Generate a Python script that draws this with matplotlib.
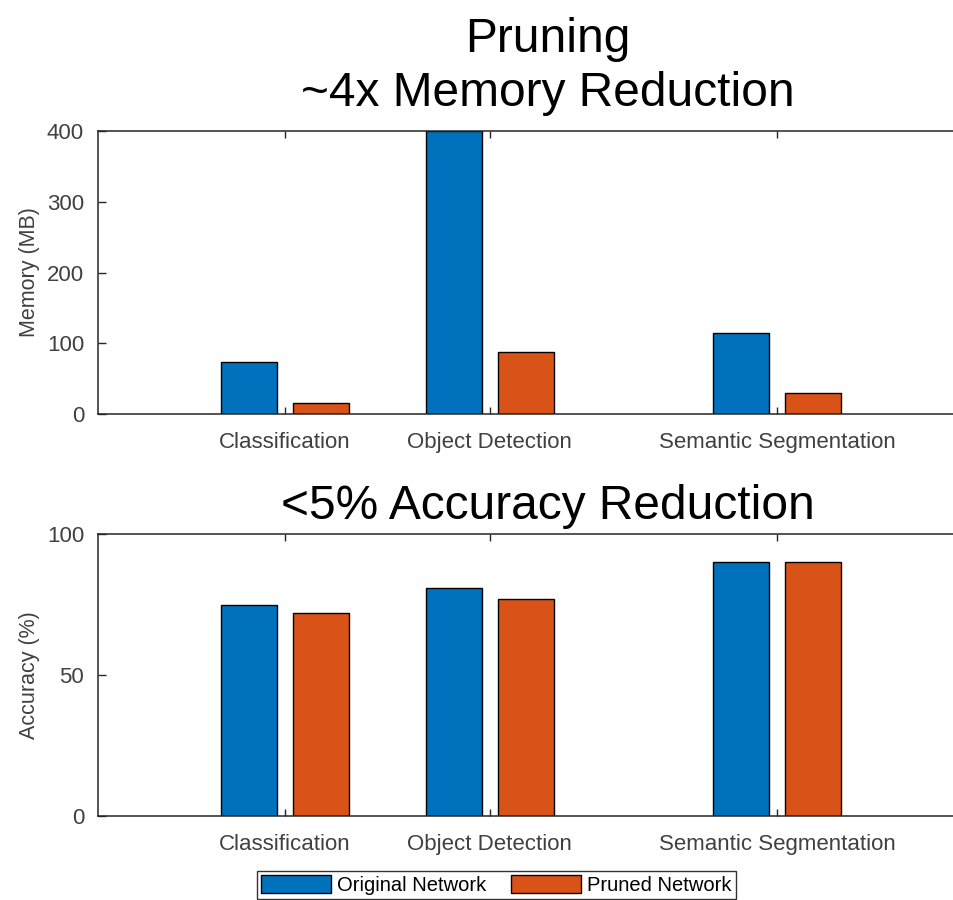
import numpy as np
import matplotlib
matplotlib.use("Agg")
import matplotlib.pyplot as plt

plt.rcParams["font.family"] = ["Liberation Sans", "DejaVu Sans"]

categories = ["Classification", "Object Detection", "Semantic Segmentation"]
series_names = ["Original Network", "Pruned Network"]
memory_original = [74, 400, 114]
memory_pruned = [15, 88, 29]
accuracy_original = [75, 81, 90]
accuracy_pruned = [72, 77, 90]

# matlab default colours
blue = "#0072BD"
orange = "#D95319"
grey = "0.25"

x = np.array([1.0, 2.0, 3.4])
width = 0.273
offset = 0.175

fig = plt.figure(figsize=(9.54, 9.0), dpi=100)
ax1 = fig.add_axes([0.1027, 0.540, 0.944, 0.3144])
ax2 = fig.add_axes([0.1027, 0.0933, 0.944, 0.3133])


def style_axes(ax, ymax, yticks, ylabel):
    ax.set_xlim(0.09, 4.48)
    ax.set_ylim(0, ymax)
    ax.set_yticks(yticks)
    ax.set_xticks(x)
    ax.set_xticklabels(categories)
    ax.tick_params(axis="both", direction="in", labelsize=16, labelcolor=grey,
                   color="0.15", length=6, width=1, pad=10)
    ax.tick_params(axis="x", top=True, length=5, pad=13)
    ax.set_ylabel(ylabel, fontsize=15.5, color=grey, labelpad=5)
    for side in ["left", "top", "bottom"]:
        ax.spines[side].set_color("0.15")
        ax.spines[side].set_linewidth(1.1)
    ax.spines["right"].set_visible(False)


b1 = ax1.bar(x - offset, memory_original, width, color=blue, edgecolor="black",
             linewidth=1, label=series_names[0], zorder=2)
b2 = ax1.bar(x + offset, memory_pruned, width, color=orange, edgecolor="black",
             linewidth=1, label=series_names[1], zorder=2)
style_axes(ax1, 400, [0, 100, 200, 300, 400], "Memory (MB)")
ax1.set_title("Pruning\n~4x Memory Reduction", fontsize=34.5, pad=18,
              linespacing=1.25)

ax2.bar(x - offset, accuracy_original, width, color=blue, edgecolor="black",
        linewidth=1, zorder=2)
ax2.bar(x + offset, accuracy_pruned, width, color=orange, edgecolor="black",
        linewidth=1, zorder=2)
style_axes(ax2, 100, [0, 50, 100], "Accuracy (%)")
ax2.set_title("<5% Accuracy Reduction", fontsize=34.5, pad=11)

leg = fig.legend(handles=[b1, b2], labels=series_names, loc="center",
                 bbox_to_anchor=(0.52, 0.0165), ncol=2, fontsize=14.5,
                 frameon=True, fancybox=False, edgecolor="black",
                 handlelength=3.5, handleheight=1.0, handletextpad=0.3,
                 columnspacing=1.2, borderpad=0.2, borderaxespad=0)
leg.get_frame().set_linewidth(1.0)

fig.savefig("out.png", dpi=100)
